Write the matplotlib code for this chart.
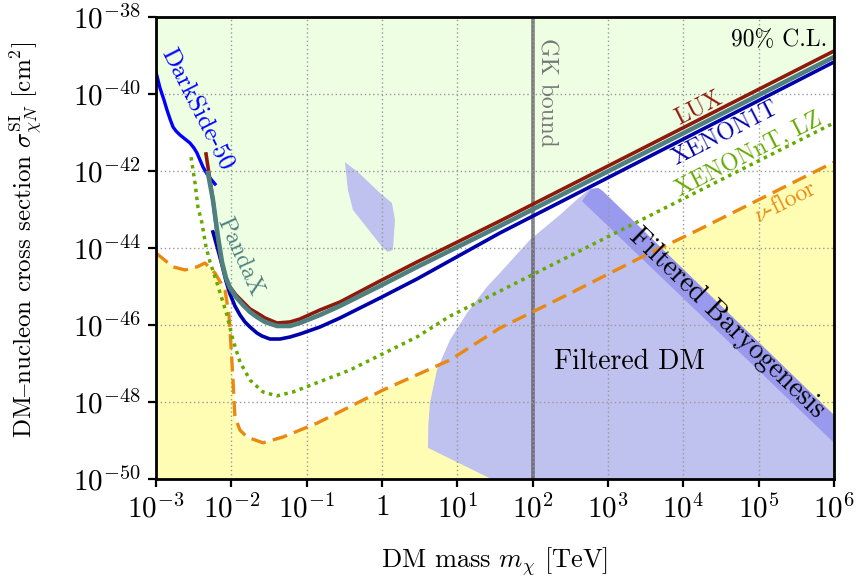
import numpy as np
import matplotlib
matplotlib.use("Agg")
import matplotlib.pyplot as plt
from matplotlib.ticker import FixedLocator, FixedFormatter, NullLocator

plt.rcParams['font.family'] = ['cmr10', 'DejaVu Serif']
plt.rcParams['mathtext.fontset'] = 'cm'
plt.rcParams['axes.formatter.use_mathtext'] = True
plt.rcParams['axes.unicode_minus'] = False

# ---------------- data (log10 of mass [TeV], log10 of sigma [cm^2]) ----------------
darkside_logm = [-3.0, -2.947, -2.894, -2.854, -2.814, -2.774, -2.735, -2.681, -2.615, -2.549, -2.496,
                 -2.456, -2.416, -2.376, -2.323, -2.283, -2.217]
darkside_logs = [-39.429, -39.844, -40.156, -40.416, -40.649, -40.857, -40.961, -41.065, -41.169, -41.273,
                 -41.403, -41.532, -41.714, -41.896, -42.078, -42.182, -42.338]

lux_logm = [-2.336, -2.244, -2.177, -2.124, -2.071, -2.018, -1.938, -1.845, -1.752, -1.660, -1.553, -1.394,
            -1.222, -1.089, -0.824, -0.558, -0.027, 0.464, 1.565, 6.0]
lux_logs = [-41.558, -42.753, -43.792, -44.416, -44.779, -45.013, -45.221, -45.403, -45.584, -45.688,
            -45.818, -45.948, -45.922, -45.844, -45.610, -45.403, -44.857, -44.364, -43.299, -38.883]

pandax_logm = [-2.310, -2.244, -2.177, -2.124, -2.071, -2.018, -1.938, -1.845, -1.752, -1.660, -1.553, -1.394,
               -1.222, -1.089, -0.824, -0.558, -0.027, 0.464, 1.565, 6.0]
pandax_logs = [-42.052, -42.753, -43.714, -44.364, -44.779, -45.039, -45.273, -45.481, -45.662, -45.792,
               -45.922, -46.026, -46.026, -45.948, -45.740, -45.506, -44.987, -44.494, -43.429, -39.039]

xenon1t_logm = [-2.244, -2.177, -2.124, -2.071, -2.018, -1.952, -1.885, -1.819, -1.752, -1.660, -1.593,
                -1.487, -1.354, -1.222, -1.089, -0.824, -0.558, -0.027, 0.464, 1.565, 6.0]
xenon1t_logs = [-43.584, -44.052, -44.442, -44.857, -45.195, -45.506, -45.740, -45.922, -46.052, -46.208,
                -46.286, -46.364, -46.364, -46.312, -46.234, -46.052, -45.818, -45.299, -44.805, -43.610,
                -39.169]

xenonnt_logm = [-2.535, -2.482, -2.443, -2.390, -2.336, -2.283, -2.190, -2.058, -1.978, -1.885, -1.752,
                -1.580, -1.394, -1.182, -0.425, 0.464, 0.902, 1.565, 6.0]
xenonnt_logs = [-41.64, -42.31, -42.94, -43.35, -43.97, -44.36, -44.91, -45.74, -46.39, -46.96, -47.43,
                -47.74, -47.84, -47.74, -47.17, -46.31, -45.77, -45.12, -40.75]

nufloor_logm = [-3.0, -2.774, -2.615, -2.456, -2.350, -2.217, -2.084, -2.031, -2.005, -1.978, -1.952, -1.885,
                -1.792, -1.580, -1.315, -0.863, 0.013, 0.902, 1.565, 2.455, 3.423, 4.220, 6.0]
nufloor_logs = [-44.13, -44.49, -44.57, -44.49, -44.39, -44.65, -45.09, -45.74, -46.52, -47.43, -48.39, -48.73,
                -48.91, -49.06, -48.91, -48.55, -47.69, -46.91, -46.08, -45.22, -44.26, -43.51, -41.77]

filtered_dm_logm = [0.61, 0.615, 0.636, 0.729, 0.902, 1.127, 1.393, 1.565, 1.963, 2.362, 2.60, 2.76, 2.87,
                    6.0, 6.0, 1.45]
filtered_dm_logs = [-49.19, -48.6, -48.03, -47.17, -46.39, -45.69, -45.01, -44.65, -43.79, -43.14, -42.72,
                    -42.46, -42.44, -48.34, -50.0, -50.0]

baryo_logm = [2.654, 2.77, 2.87, 2.93, 6.0, 6.0]
baryo_logs = [-42.78, -42.48, -42.44, -42.52, -48.34, -49.06]

blob_logm = [-0.492, -0.319, -0.027, 0.132, 0.172, 0.145, 0.079, 0.013, -0.386, -0.452]
blob_logs = [-41.77, -42.03, -42.57, -42.83, -43.27, -44.05, -44.10, -44.00, -43.01, -42.49]

gk_bound_mass = 1e2

xtick_exp = [-3, -2, -1, 0, 1, 2, 3, 4, 5, 6]
xtick_labels = [r'$10^{-3}$', r'$10^{-2}$', r'$10^{-1}$', r'$1$', r'$10^{1}$', r'$10^{2}$',
                r'$10^{3}$', r'$10^{4}$', r'$10^{5}$', r'$10^{6}$']
ytick_exp = [-50, -48, -46, -44, -42, -40, -38]
ytick_labels = [r'$10^{-50}$', r'$10^{-48}$', r'$10^{-46}$', r'$10^{-44}$', r'$10^{-42}$',
                r'$10^{-40}$', r'$10^{-38}$']

def tv(a):
    return 10.0 ** np.asarray(a, dtype=float)

# ---------------- figure ----------------
fig = plt.figure(figsize=(8.57, 5.79), dpi=100)
ax = fig.add_axes([156/857, 1 - 479/579, (834-156)/857, (479-17)/579])
ax.set_xscale('log')
ax.set_yscale('log')
ax.set_xlim(1e-3, 1e6)
ax.set_ylim(1e-50, 1e-38)

# excluded region (green): above DarkSide then PandaX
ds_m = [m for m in darkside_logm if m < pandax_logm[0]]
ds_s = darkside_logs[:len(ds_m)]
excl_m = ds_m + pandax_logm
excl_s = ds_s + pandax_logs
ax.fill_between(tv(excl_m), tv(excl_s), 1e-38, color='#EEFEE3', lw=0, zorder=0)

# neutrino floor region (yellow)
ax.fill_between(tv(nufloor_logm), 1e-50, tv(nufloor_logs), color='#FFFDB4', lw=0, zorder=0)

# filtered DM regions
ax.fill(tv(filtered_dm_logm), tv(filtered_dm_logs), color='#BFC1EE', lw=0, zorder=1)
ax.fill(tv(blob_logm), tv(blob_logs), color='#BFC1EE', lw=0, zorder=1)
ax.fill(tv(baryo_logm), tv(baryo_logs), color='#9999EE', lw=0, zorder=1.1)

# ticks & grid
ax.xaxis.set_major_locator(FixedLocator(tv(xtick_exp)))
ax.xaxis.set_major_formatter(FixedFormatter(xtick_labels))
ax.yaxis.set_major_locator(FixedLocator(tv(ytick_exp)))
ax.yaxis.set_major_formatter(FixedFormatter(ytick_labels))
ax.xaxis.set_minor_locator(NullLocator())
ax.yaxis.set_minor_locator(NullLocator())
ax.grid(True, which='major', color='#999999', linestyle=(0, (1, 2)), linewidth=1.0)
ax.set_axisbelow(False)
for gl in ax.get_xgridlines() + ax.get_ygridlines():
    gl.set_zorder(1.5)

# GK bound
ax.axvline(gk_bound_mass, color='#555555', alpha=0.75, lw=2.6, zorder=2)

# limit curves
ax.plot(tv(nufloor_logm), tv(nufloor_logs), color='#E88A12', lw=2.4, dashes=(4.5, 2.2), zorder=3)
ax.plot(tv(xenonnt_logm), tv(xenonnt_logs), color='#66AA00', lw=2.5, linestyle=(0, (1, 1.3)), zorder=3)
ax.plot(tv(darkside_logm), tv(darkside_logs), color='#0000FF', lw=2.4, zorder=3.1, solid_joinstyle='round')
ax.plot(tv(xenon1t_logm), tv(xenon1t_logs), color='#0000AA', lw=2.6, zorder=3.2, solid_joinstyle='round')
ax.plot(tv(lux_logm), tv(lux_logs), color='#8E1A0E', lw=2.6, zorder=3.3, solid_joinstyle='round')
ax.plot(tv(pandax_logm), tv(pandax_logs), color='#4F8080', lw=3.3, zorder=3.4, solid_joinstyle='round')

# texts
fs = 20
ax.text(0.99, 0.975, '90% C.L.', transform=ax.transAxes, ha='right', va='top', fontsize=17, zorder=5)
ax.text(tv(2.19), tv(-39.97), 'GK bound', rotation=-90, color='#777777', ha='center', va='center',
        fontsize=17, zorder=5)
ax.text(tv(-2.47), tv(-40.40), 'DarkSide-50', rotation=-63, color='#0000FF', ha='center', va='center',
        fontsize=18, zorder=5, rotation_mode='anchor')
ax.text(tv(-1.885), tv(-44.22), 'PandaX', rotation=-66, color='#4F8080', ha='center', va='center',
        fontsize=17, zorder=5, rotation_mode='anchor')
ax.text(tv(4.20), tv(-40.36), 'LUX', rotation=27, color='#8E1A0E', ha='center', va='center',
        fontsize=17, zorder=5, rotation_mode='anchor')
ax.text(tv(4.55), tv(-41.02), 'XENON1T', rotation=27, color='#0000AA', ha='center', va='center',
        fontsize=17, zorder=5, rotation_mode='anchor')
ax.text(tv(4.87), tv(-41.58), 'XENONnT, LZ', rotation=27, color='#66AA00', ha='center', va='center',
        fontsize=17, zorder=5, rotation_mode='anchor')
ax.text(tv(5.35), tv(-42.82), r'$\nu$-floor', rotation=27, color='#E88A12', ha='center', va='center',
        fontsize=17, zorder=5, rotation_mode='anchor')
ax.text(tv(4.58), tv(-45.95), 'Filtered Baryogenesis', rotation=-44, color='black', ha='center',
        va='center', fontsize=fs, zorder=5, rotation_mode='anchor')
ax.text(tv(3.29), tv(-46.96), 'Filtered DM', color='black', ha='center', va='center', fontsize=fs, zorder=5)

# axes styling
for sp in ax.spines.values():
    sp.set_linewidth(2.0)
    sp.set_zorder(6)
ax.tick_params(axis='both', which='major', direction='out', length=6, width=1.6, labelsize=21, pad=5)
ax.set_xlabel(r'DM mass $m_\chi$ [TeV]', fontsize=19)
ax.set_ylabel(r'DM$–$nucleon cross section $\sigma^{\rm SI}_{\chi N}$ [cm$^2$]', fontsize=18)
ax.xaxis.set_label_coords(0.5, (479 - 545) / 462)
ax.yaxis.set_label_coords((45 - 156) / 678, (479 - 240) / 462)

fig.savefig('out.png', dpi=100)
